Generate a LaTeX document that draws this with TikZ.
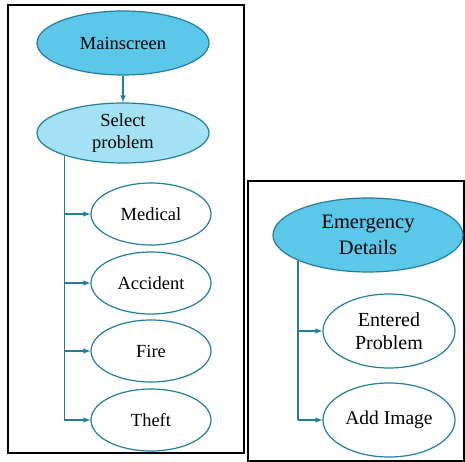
\documentclass[tikz,border=0pt]{standalone}
\usepackage{fontspec}
\setmainfont{Liberation Serif}
\usepackage{tikz}
\usetikzlibrary{arrows}
\usetikzlibrary{shapes.geometric}
\definecolor{aquadark}{RGB}{92,200,233}
\definecolor{aqualight}{RGB}{162,226,244}
\definecolor{tealline}{RGB}{35,125,155}
\tikzstyle{oval} = [draw=tealline,ellipse,line width=1.2pt,inner sep=0mm,align=center,font=\fontsize{18.5}{22}\selectfont]
\tikzstyle{bigoval} = [oval,minimum width=172pt,minimum height=64pt]
\tikzstyle{smalloval} = [oval,minimum width=120pt,minimum height=62pt,fill=white]
\tikzstyle{link} = [draw=tealline,line width=1.4pt]
\tikzstyle{panel} = [draw=black,line width=1.2pt]

\begin{document}
\begin{tikzpicture}[x=1pt,y=-1pt]
\useasboundingbox (0,0) rectangle (465,462);

% left panel
\draw[panel] (8,5) rectangle (244,453);
\draw(123,43) node[bigoval,fill=aquadark] (main) {Mainscreen};
\draw(123,133) node[bigoval,minimum height=60pt,fill=aqualight] (sel) {Select\\problem};
\draw(151,214) node[smalloval] (med) {Medical};
\draw(151,283) node[smalloval] (acc) {Accident};
\draw(151,351) node[smalloval] (fire) {Fire};
\draw(151,420) node[smalloval] (theft) {Theft};

\draw[link,-latex] (main) -- (sel);
\draw[link] (sel.201) -- (sel.201 |- theft.west);
\draw[link,-latex] (sel.201 |- med.west) -- (med.west);
\draw[link,-latex] (sel.201 |- acc.west) -- (acc.west);
\draw[link,-latex] (sel.201 |- fire.west) -- (fire.west);
\draw[link,-latex] (sel.201 |- theft.west) -- (theft.west);

% right panel
\draw[panel] (248,181) rectangle (464,461);
\draw(368,235) node[oval,minimum width=190pt,minimum height=74pt,fill=aquadark,font=\fontsize{20.5}{26}\selectfont] (emg) {Emergency\\Details};
\draw(389,331) node[smalloval,minimum width=132pt,minimum height=74pt,font=\fontsize{20}{23}\selectfont] (ent) {Entered\\Problem};
\draw(389,420) node[smalloval,minimum width=132pt,minimum height=74pt,font=\fontsize{19.5}{23}\selectfont] (img) {Add Image};

\draw[link] (emg.200) -- (emg.200 |- img.west);
\draw[link,-latex] (emg.200 |- ent.west) -- (ent.west);
\draw[link,-latex] (emg.200 |- img.west) -- (img.west);

\end{tikzpicture}
\end{document}
